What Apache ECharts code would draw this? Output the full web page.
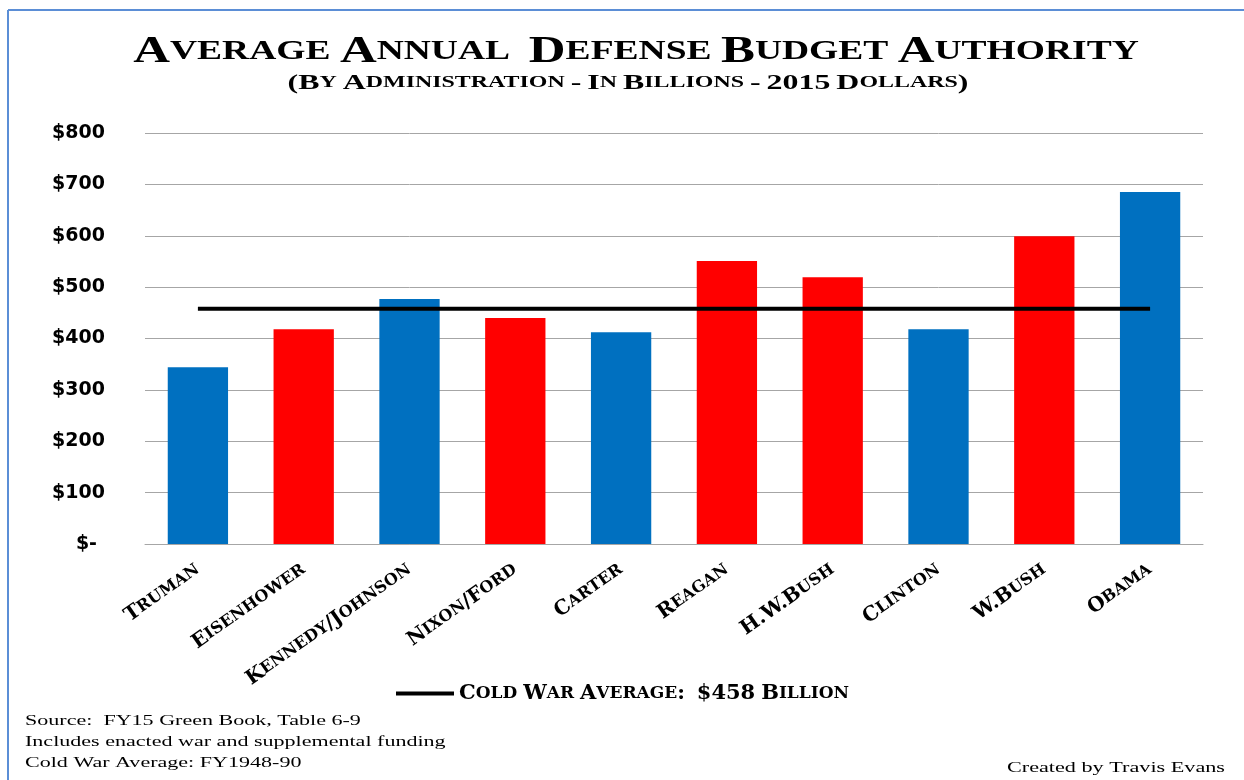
<!DOCTYPE html>
<html>
<head>
<meta charset="utf-8">
<script src="https://cdn.jsdelivr.net/npm/echarts@6/dist/echarts.min.js"></script>
<style>
html,body{margin:0;padding:0;background:#fff;}
#chart{width:1244px;height:780px;}
</style>
</head>
<body>
<div id="chart"></div>
<script>
const categories = ['Truman','Eisenhower','Kennedy/Johnson','Nixon/Ford','Carter','Reagan','H.W.Bush','Clinton','W.Bush','Obama'];
const budgetValues = [344, 418, 477, 440, 412, 551, 519, 418, 599, 685];
const party = ['D','R','D','R','D','R','R','D','R','D'];
const coldWarAverage = 458;
const yTicks = [0, 100, 200, 300, 400, 500, 600, 700, 800];

const partyColors = { D: '#0070C0', R: '#FF0000' };

// small-caps emulation with rich text
function isBig(ch) { return ch !== ch.toLowerCase() || /[0-9$:\/\.\-\(\)]/.test(ch); }
function smallCaps(str, big, small) {
  let out = '';
  let i = 0;
  while (i < str.length) {
    const b = isBig(str[i]);
    let j = i;
    while (j < str.length && isBig(str[j]) === b) j++;
    const seg = str.slice(i, j);
    out += b ? '{' + big + '|' + seg + '}' : '{' + small + '|' + seg.toUpperCase() + '}';
    i = j;
  }
  return out;
}

const serif = '"Liberation Serif", "DejaVu Serif", serif';
const wideSerif = '"DejaVu Serif", "Liberation Serif", serif';
const sans = '"DejaVu Sans", sans-serif';
const chart = echarts.init(document.getElementById('chart'));

const option = {
  backgroundColor: '#fff',
  animation: false,
  graphic: [
    { type: 'line', shape: { x1: 8, y1: 10, x2: 1244, y2: 10 }, style: { stroke: '#5B8ED6', lineWidth: 2 } },
    { type: 'line', shape: { x1: 8, y1: 10, x2: 8, y2: 780 }, style: { stroke: '#5B8ED6', lineWidth: 2 } },
    {
      type: 'text', x: 636, y: 33, scaleX: 1.34,
      style: {
        text: smallCaps('Average Annual  Defense Budget Authority', 'b', 's'),
        align: 'center',
        rich: {
          b: { fontFamily: serif, fontSize: 38, fontWeight: 'bold', fill: '#000' },
          s: { fontFamily: serif, fontSize: 28, fontWeight: 'bold', fill: '#000' }
        }
      }
    },
    {
      type: 'text', x: 628, y: 72, scaleX: 1.45,
      style: {
        text: smallCaps('(By Administration - In Billions - 2015 Dollars)', 'b', 's'),
        align: 'center',
        rich: {
          b: { fontFamily: serif, fontSize: 22, fontWeight: 'bold', fill: '#000' },
          s: { fontFamily: serif, fontSize: 16.5, fontWeight: 'bold', fill: '#000' }
        }
      }
    },
    {
      type: 'text', x: 25, y: 711, scaleX: 1.47,
      style: {
        text: 'Source:  FY15 Green Book, Table 6-9\nIncludes enacted war and supplemental funding\nCold War Average: FY1948-90',
        fontFamily: serif, fontSize: 15, lineHeight: 21, fill: '#000'
      }
    },
    {
      type: 'text', x: 1225, y: 761, scaleX: 1.48,
      style: { text: 'Created by Travis Evans', align: 'right', fontFamily: serif, fontSize: 15, fill: '#000' }
    }
  ],
  grid: { left: 145, right: 41, top: 133, bottom: 236 },
  legend: {
    show: true,
    data: [{ name: 'Cold War Average', icon: 'rect' }],
    left: 391, top: 678,
    itemWidth: 58, itemHeight: 4,
    formatter: function () { return smallCaps('Cold War Average:  $458 Billion', 'b', 's'); },
    textStyle: {
      rich: {
        b: { fontFamily: wideSerif, fontSize: 21, fontWeight: 'bold', color: '#000' },
        s: { fontFamily: wideSerif, fontSize: 17, fontWeight: 'bold', color: '#000' }
      }
    }
  },
  xAxis: {
    type: 'category',
    data: categories,
    axisLine: { show: true, lineStyle: { color: '#A6A6A6', width: 1 } },
    axisTick: { show: false },
    axisLabel: {
      interval: 0, rotate: 35, margin: 24,
      formatter: function (v) { return smallCaps(v, 'b', 's'); },
      rich: {
        b: { fontFamily: wideSerif, fontSize: 20, fontWeight: 'bold', color: '#000' },
        s: { fontFamily: wideSerif, fontSize: 16, fontWeight: 'bold', color: '#000' }
      }
    }
  },
  yAxis: {
    type: 'value',
    min: 0, max: 800, interval: 100,
    axisLine: { show: false },
    axisTick: { show: false },
    splitLine: { lineStyle: { color: '#A6A6A6', width: 1 } },
    axisLabel: {
      margin: 40,
      fontFamily: sans, fontSize: 19, fontWeight: 'bold', color: '#000',
      formatter: function (v) { return v === 0 ? '{z|$-}' : '$' + v; },
      rich: {
        z: { fontFamily: sans, fontSize: 19, fontWeight: 'bold', color: '#000', padding: [0, 8, 0, 0] }
      }
    }
  },
  series: [
    {
      type: 'bar',
      name: 'Budget',
      barWidth: '57%',
      data: budgetValues.map((v, i) => ({ value: v, itemStyle: { color: partyColors[party[i]] } }))
    },
    {
      type: 'line',
      name: 'Cold War Average',
      data: categories.map(() => coldWarAverage),
      symbol: 'none',
      lineStyle: { color: '#000', width: 4 },
      itemStyle: { color: '#000' },
      z: 5
    }
  ]
};
chart.setOption(option);
</script>
</body>
</html>
